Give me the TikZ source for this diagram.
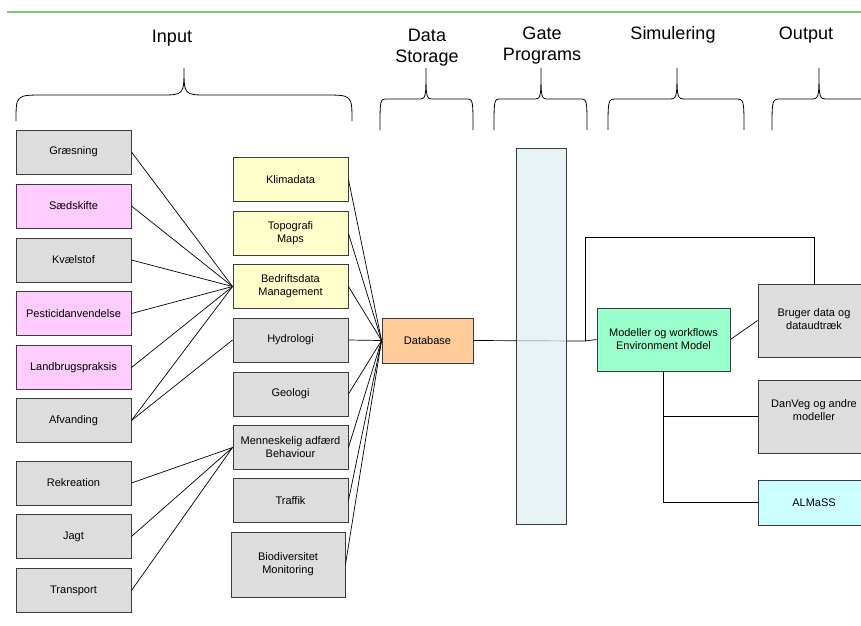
\documentclass[tikz,border=0pt]{standalone}
\usepackage{fontspec}
\setmainfont{Liberation Sans}
\definecolor{bgray}{RGB}{221,221,221}
\definecolor{bpink}{RGB}{255,204,255}
\definecolor{byellow}{RGB}{255,255,204}
\definecolor{borange}{RGB}{255,204,153}
\definecolor{bgate}{RGB}{221,237,241}
\definecolor{bgreen}{RGB}{153,255,204}
\definecolor{bcyan}{RGB}{204,255,255}
\definecolor{lgreen}{RGB}{120,204,120}
\definecolor{bdr}{RGB}{60,60,60}
\newcommand{\mybrace}[8]{\draw[brc] (#1,#6) .. controls (#1,#4) .. (#1+#7,#4) -- (#3-#8,#4) .. controls (#3,#4) .. (#3,#5) .. controls (#3,#4) .. (#3+#8,#4) -- (#2-#7,#4) .. controls (#2,#4) .. (#2,#6);}
\begin{document}
\begin{tikzpicture}[x=1pt,y=-1pt,
  box/.style={draw=bdr, line width=0.9pt, minimum width=115pt, minimum height=44pt, inner sep=1pt, align=center, font=\fontsize{11}{13}\selectfont},
  txt/.style={inner sep=0pt, align=center, font=\fontsize{11}{13}\selectfont},
  conn/.style={line width=0.7pt},
  brc/.style={line width=0.8pt},
  hdr/.style={inner sep=0pt, align=center, font=\fontsize{18}{21}\selectfont}]
\useasboundingbox (0,0) rectangle (861,625);
\clip (0,0) rectangle (861,625);
% top rule
\draw[lgreen, line width=1.5pt] (7,12) -- (861,12);
% headers
\node[hdr] (hinput) at (172,38) {Input};
\node[hdr] (hdata) at (427,48) {Data\\Storage};
\node[hdr] (hgate) at (542,46) {Gate\\Programs};
\node[hdr] (hsim) at (673,35) {Simulering};
\node[hdr] (hout) at (806,35) {Output};
% braces
\mybrace{16}{352}{184}{95}{68}{121}{28}{24}
\mybrace{380}{473}{426}{99}{68}{130}{7}{8}
\mybrace{494}{587}{541}{99}{68}{130}{7}{8}
\mybrace{608}{744}{677}{99}{68}{130}{9}{9}
\mybrace{772}{880}{819}{99}{68}{130}{9}{9}
% column 1
\node[box, fill=bgray]  (graes) at (73.5,152)   {Græsning};
\node[box, fill=bpink]  (saed)  at (73.5,206)   {Sædskifte};
\node[box, fill=bgray]  (kvael) at (73.5,260)   {Kvælstof};
\node[box, fill=bpink]  (pest)  at (73.5,313.5) {Pesticidanvendelse};
\node[box, fill=bpink]  (land)  at (73.5,367.5) {Landbrugspraksis};
\node[box, fill=bgray]  (afv)   at (73.5,420.5) {Afvanding};
\node[box, fill=bgray]  (rekr)  at (73.5,483)   {Rekreation};
\node[box, fill=bgray]  (jagt)  at (73.5,536.5) {Jagt};
\node[box, fill=bgray]  (trans) at (73.5,590.5) {Transport};
% column 2
\node[box, fill=byellow] (klima) at (290.5,179.5) {Klimadata};
\node[box, fill=byellow] (topo)  at (290.5,233.5) {Topografi\\Maps};
\node[box, fill=byellow] (bedr)  at (290.5,286.5) {Bedriftsdata\\Management};
\node[box, fill=bgray]   (hydro) at (290.5,340)   {Hydrologi};
\node[box, fill=bgray]   (geo)   at (290.5,394)   {Geologi};
\node[box, fill=bgray]   (menn)  at (290.5,447.5) {Menneskelig adfærd\\Behaviour};
\node[box, fill=bgray]   (traf)  at (290.5,500.5) {Traffik};
\node[box, fill=bgray, minimum width=114pt, minimum height=65pt] (bio) at (288,564.5) {Biodiversitet\\Monitoring};
% database
\node[box, fill=borange, minimum width=91pt, minimum height=45pt] (db) at (427.5,340.5) {Database};
% simulation
\node[box, fill=bgreen, minimum width=133pt, minimum height=63pt] (model) at (663.5,339.5) {Modeller og workflows\\Environment Model};
% outputs
\node[box, fill=bgray, minimum width=112pt, minimum height=73pt] (brug) at (814,320.5) {};
\node[txt] (brugtxt) at ([yshift=1pt]brug.center) {Bruger data og\\dataudtræk};
\node[box, fill=bgray, minimum width=112pt, minimum height=73pt] (danveg) at (814,416.5) {};
\node[txt] (danvegtxt) at ([yshift=6pt]danveg.center) {DanVeg og andre\\modeller};
\node[box, fill=bcyan, minimum width=112pt, minimum height=45pt] (almass) at (814,502.5) {ALMaSS};
% input connectors
\foreach \n in {graes,saed,kvael,pest,land,afv} \draw[conn] (\n.east) -- (bedr.west);
\draw[conn] (afv.east) -- (hydro.west);
\foreach \n in {rekr,jagt,trans} \draw[conn] (\n.east) -- (menn.west);
\foreach \n in {klima,topo,bedr,hydro,geo,menn,traf,bio} \draw[conn] (\n.east) -- (db.west);
% database to model through gate
\coordinate (jn) at (585,341);
\coordinate (jtop) at (585,237);
\draw[conn] (db.east) -- (jn) -- (model.west);
\node[draw=bdr, line width=0.9pt, fill=bgate, fill opacity=0.7, minimum width=50pt, minimum height=376pt, inner sep=0pt] (gate) at (541,336) {};
\draw[conn] (jn) -- (jtop) -| (brug.north);
\draw[conn] (model.east) -- (brug.west);
\draw[conn] (model.south) |- (almass.west);
\draw[conn] (model.south |- danveg.west) -- (danveg.west);
\end{tikzpicture}
\end{document}
